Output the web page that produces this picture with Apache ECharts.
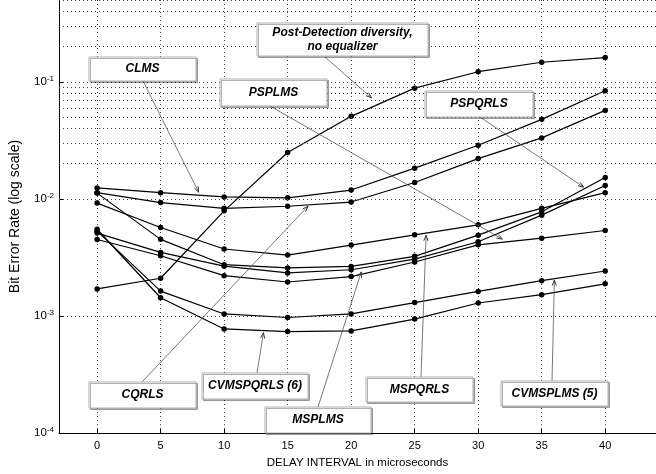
<!DOCTYPE html>
<html><head><meta charset="utf-8">
<script src="https://cdn.jsdelivr.net/npm/echarts@6/dist/echarts.min.js"></script>
<style>html,body{margin:0;padding:0;background:#fff}#c{width:656px;height:474px}</style>
</head><body><div id="c"></div>
<script>
// ---- data ----
const delay = [0, 5, 10, 15, 20, 25, 30, 35, 40];
const postDetection = [0.0017, 0.0021, 0.0079, 0.0249, 0.0507, 0.0883, 0.122, 0.147, 0.161];
const clms      = [0.0124, 0.0113, 0.0104, 0.0102, 0.0119, 0.0183, 0.0287, 0.0478, 0.0838];
const cqrls     = [0.0113, 0.0093, 0.0083, 0.00865, 0.0094, 0.0138, 0.0221, 0.0332, 0.057];
const pspqrls   = [0.0112, 0.00451, 0.00274, 0.00257, 0.00265, 0.00323, 0.0049, 0.00775, 0.0152];
const mspqrls   = [0.0092, 0.0057, 0.00373, 0.00331, 0.00403, 0.00493, 0.0060, 0.0083, 0.0113];
const msplms    = [0.0051, 0.00349, 0.00266, 0.00233, 0.00248, 0.00306, 0.0043, 0.00726, 0.0130];
const psplms    = [0.0045, 0.00327, 0.00221, 0.00195, 0.00217, 0.00289, 0.00405, 0.00462, 0.00537];
const cvmsplms  = [0.0053, 0.00163, 0.00104, 0.00097, 0.00104, 0.0013, 0.00162, 0.0020, 0.00242];
const cvmspqrls = [0.0055, 0.00143, 0.000774, 0.000735, 0.000745, 0.00094, 0.00129, 0.00152, 0.00188];
const xTicks = [0, 5, 10, 15, 20, 25, 30, 35, 40];
const seriesNames = ['Post-Detection diversity, no equalizer', 'CLMS', 'CQRLS', 'PSPQRLS', 'MSPQRLS', 'MSPLMS', 'PSPLMS', 'CVMSPLMS (5)', 'CVMSPQRLS (6)'];
const seriesValues = [postDetection, clms, cqrls, pspqrls, mspqrls, msplms, psplms, cvmsplms, cvmspqrls];

// annotation labels (text) and the data point each arrow points at
const labelTexts = ['Post-Detection diversity,\nno equalizer', 'CLMS', 'PSPLMS', 'PSPQRLS', 'CQRLS', 'CVMSPQRLS (6)', 'MSPLMS', 'MSPQRLS', 'CVMSPLMS (5)'];
const arrowTips = [[21.6, 0.073], [8.0, 0.0114], [31.9, 0.00453], [38.3, 0.0126], [16.6, 0.00865], [13.1, 0.00072], [20.8, 0.00238], [25.9, 0.0049], [36.0, 0.00203]];

// ---- layout of annotation boxes (pixels) ----
const boxRects = [[257,23,171,33],[89,57,107,24],[220,79,107,27],[425,91,108,26],[89,382,107,26],[202,373,106,26],[265,407,106,26],[366,377,107,25],[501,381,107,25]];
const arrowStarts = [[325,57],[143,81],[270,106],[480,117],[142,382],[257,373],[318,407],[421,377],[552,381]];

const FONT = '"Liberation Sans", Arial, Helvetica, sans-serif';
const minorGrid = [];
for (let k = -4; k <= -1; k++) for (let m = 2; m <= 9; m++) minorGrid.push(m * Math.pow(10, k));
minorGrid.push(0.2, 0.3, 0.4);
const gridLine = {color: '#444', type: [1, 3], width: 1};

const chart = echarts.init(document.getElementById('c'));
const series = seriesValues.map((vals, i) => ({
  type: 'line', name: seriesNames[i], z: 3,
  data: delay.map((x, j) => [x, vals[j]]),
  symbol: 'circle', symbolSize: 5.5, showSymbol: true,
  itemStyle: {color: '#000'}, lineStyle: {color: '#000', width: 1.2},
  emphasis: {disabled: true}, silent: true
}));
series.unshift({
  type: 'line', data: [], z: 1, silent: true,
  markLine: {silent: true, symbol: ['none', 'none'], label: {show: false}, animation: false,
    lineStyle: gridLine, emphasis: {disabled: true},
    data: minorGrid.map(v => ({yAxis: v}))}
});

chart.setOption({
  animation: false,
  grid: {left: 50, right: 0, top: 0, bottom: 39},
  xAxis: {
    type: 'value', min: -3, max: 44,
    name: 'DELAY INTERVAL in microseconds', nameLocation: 'middle', nameGap: 24,
    nameTextStyle: {fontSize: 11.5, color: '#000', fontFamily: FONT},
    axisLine: {show: true, onZero: false, lineStyle: {color: '#000', width: 1}},
    axisTick: {show: true, inside: true, length: 4, customValues: xTicks, lineStyle: {color: '#000'}},
    axisLabel: {customValues: xTicks, fontSize: 11, color: '#000', fontFamily: FONT, margin: 7},
    splitLine: {show: true, lineStyle: gridLine}
  },
  yAxis: {
    type: 'log', logBase: 10, min: 1e-4, max: 0.5,
    name: 'Bit Error Rate (log scale)', nameLocation: 'middle', nameGap: 37,
    nameTextStyle: {fontSize: 14, color: '#000', fontFamily: FONT},
    axisLine: {show: true, onZero: false, lineStyle: {color: '#000', width: 1}},
    axisTick: {show: true, inside: true, length: 4, lineStyle: {color: '#000'}},
    axisLabel: {
      margin: 5, showMaxLabel: false,
      formatter: v => { const e = Math.log10(v), r = Math.round(e); if (Math.abs(e - r) > 1e-6) return ''; return '{b|10}{s|' + r + '}'; },
      rich: {b: {fontSize: 11.5, fontFamily: FONT, color: '#000'}, s: {fontSize: 8, fontFamily: FONT, color: '#000', padding: [0, 0, 7, 0]}}
    },
    splitLine: {show: true, lineStyle: gridLine}
  },
  series: series
});

// ---- annotations ----
const graphics = [];
arrowStarts.forEach((s, i) => {
  const t = chart.convertToPixel({gridIndex: 0}, arrowTips[i]);
  graphics.push({type: 'line', z: 20, silent: true, shape: {x1: s[0], y1: s[1], x2: t[0], y2: t[1]}, style: {stroke: '#555', lineWidth: 0.8}});
  const ang = Math.atan2(t[1] - s[1], t[0] - s[0]), L = 6, a = 0.35;
  graphics.push({type: 'polyline', z: 20, silent: true, shape: {points: [
    [t[0] - L * Math.cos(ang - a), t[1] - L * Math.sin(ang - a)], t,
    [t[0] - L * Math.cos(ang + a), t[1] - L * Math.sin(ang + a)]]}, style: {stroke: '#333', lineWidth: 1, fill: null}});
});
boxRects.forEach((r, i) => {
  graphics.push({type: 'rect', z: 30, silent: true, shape: {x: r[0], y: r[1], width: r[2], height: r[3]},
    style: {fill: '#fff', stroke: '#b0b0b0', lineWidth: 1, shadowColor: 'rgba(0,0,0,0.3)', shadowOffsetX: 1.5, shadowOffsetY: 1.5, shadowBlur: 0}});
  graphics.push({type: 'text', z: 31, silent: true, x: r[0] + r[2] / 2, y: r[1] + r[3] / 2,
    style: {text: labelTexts[i], font: 'italic bold 12px ' + FONT, fill: '#000', align: 'center', verticalAlign: 'middle', textAlign: 'center', textVerticalAlign: 'middle', lineHeight: 14}});
});
chart.setOption({graphic: {elements: graphics}});
</script>
</body></html>
